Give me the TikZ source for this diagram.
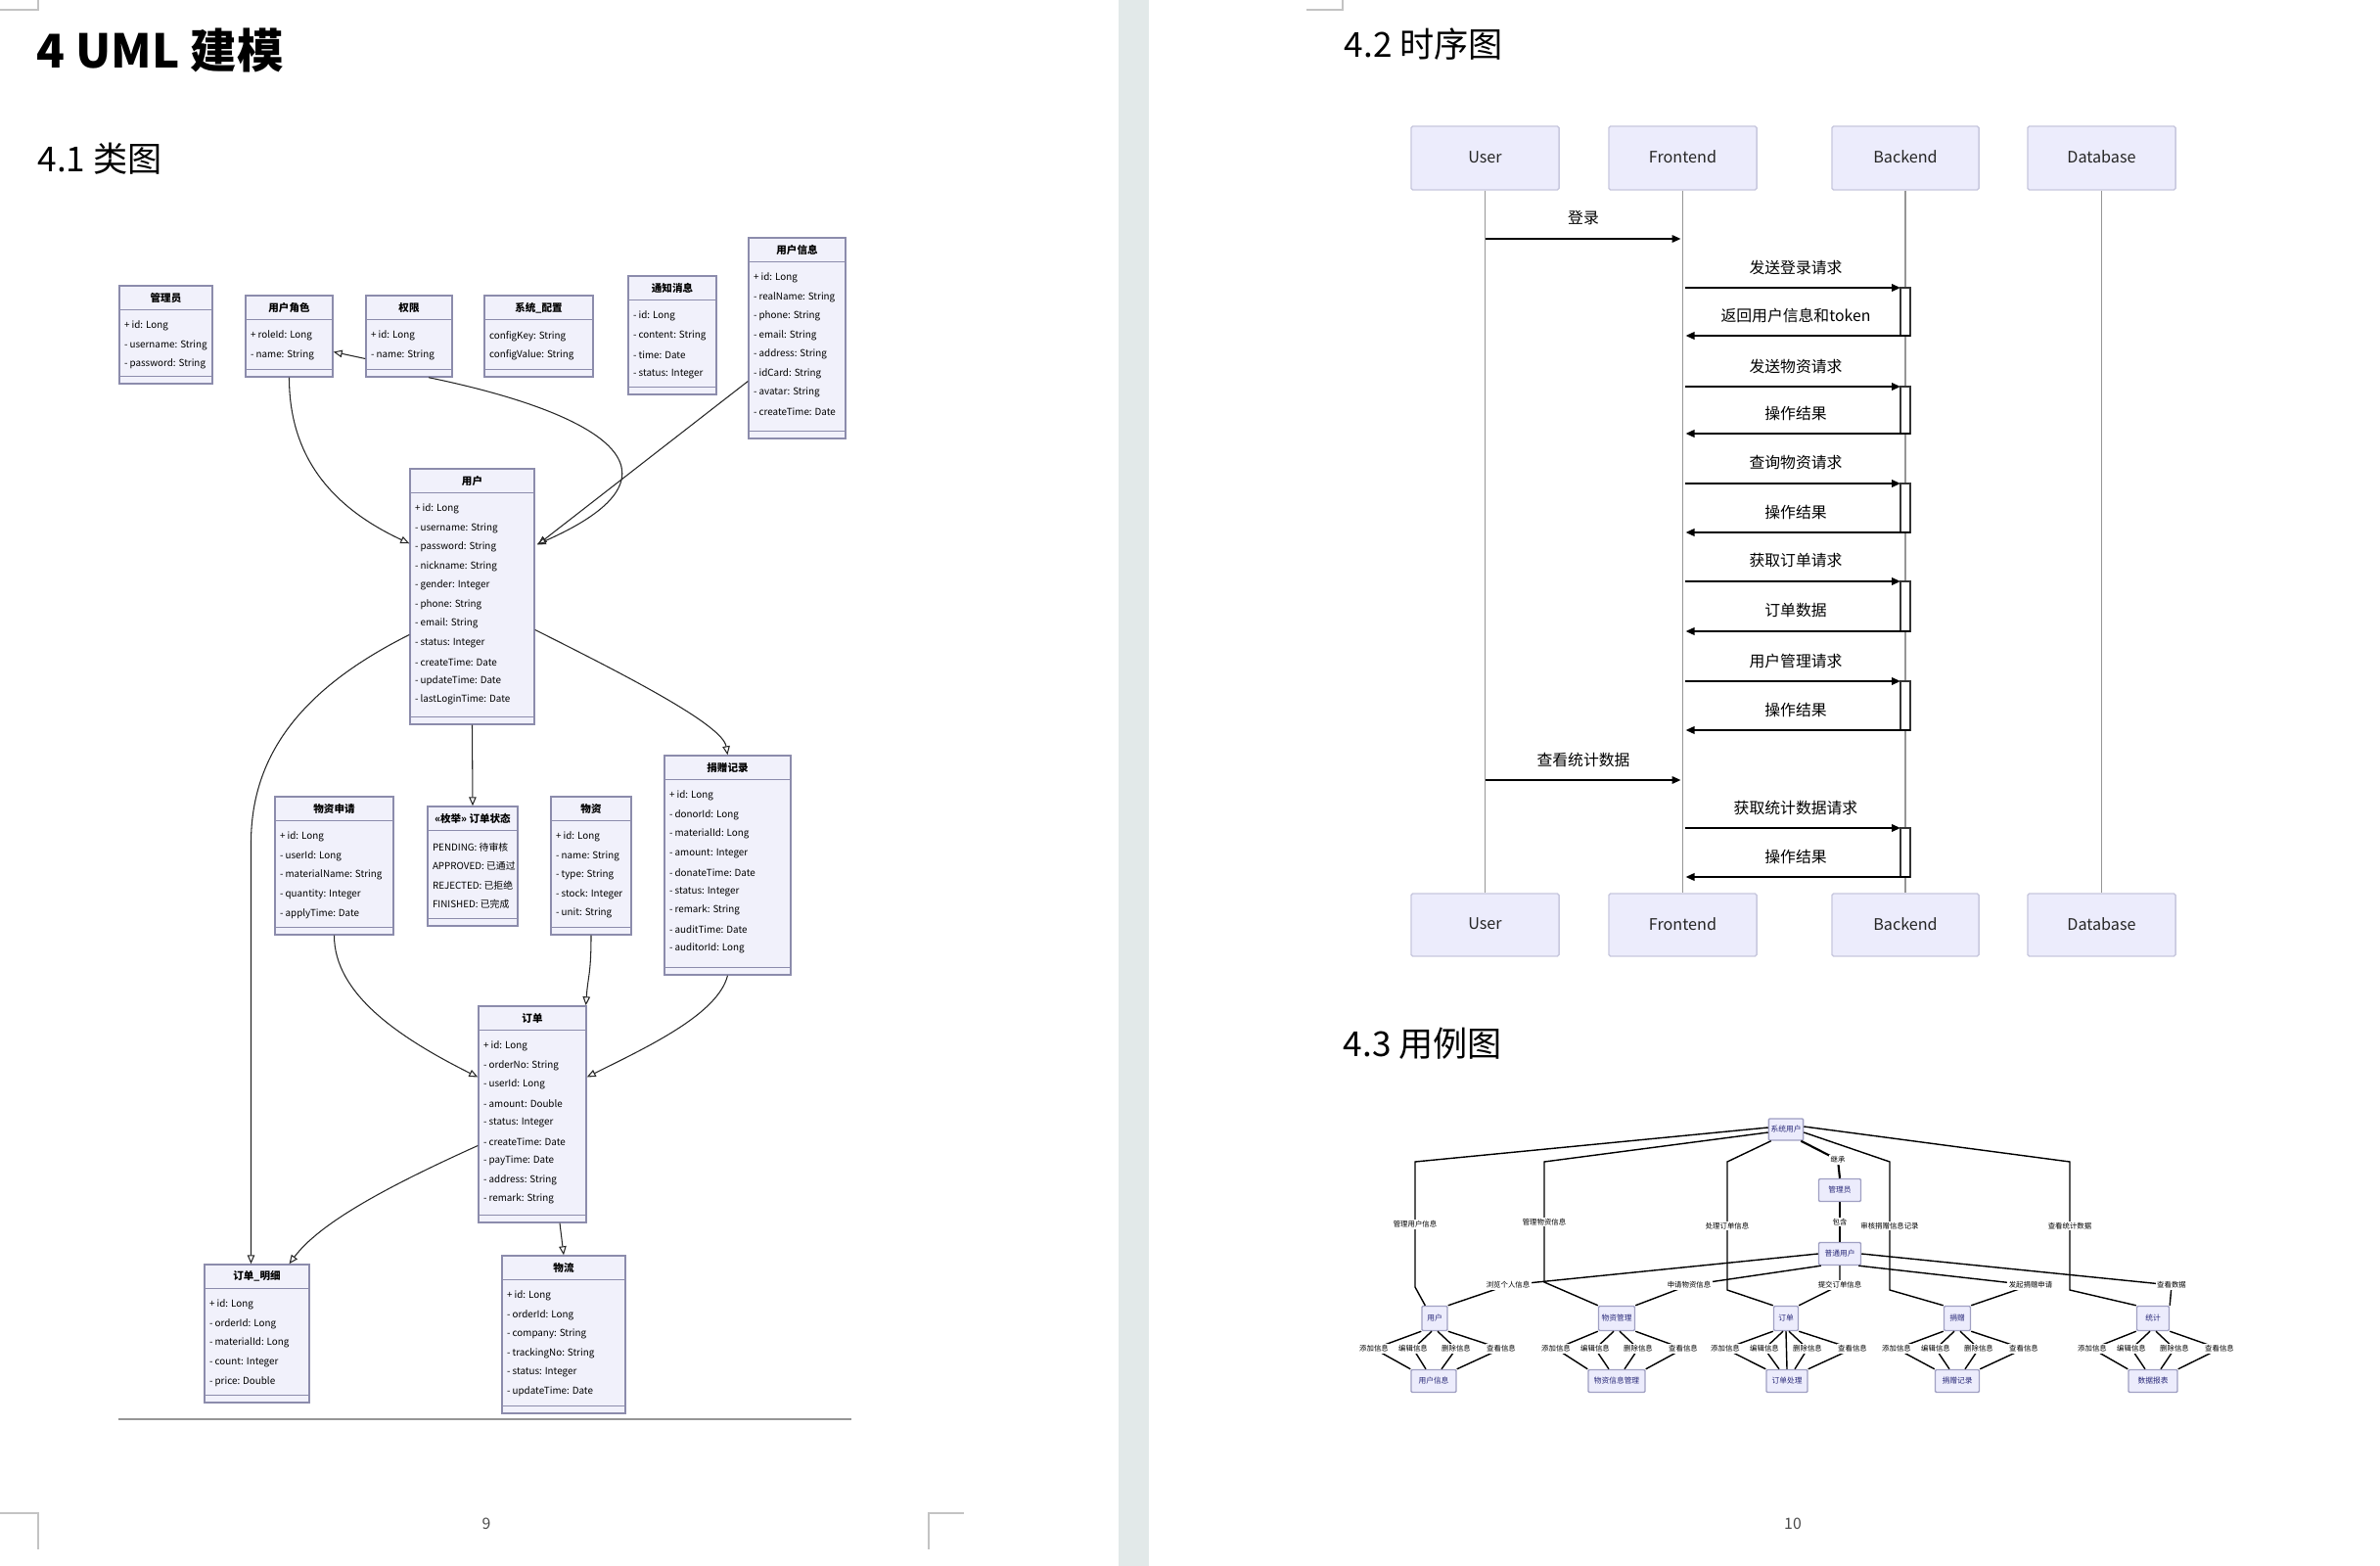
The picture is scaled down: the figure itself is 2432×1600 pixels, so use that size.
\documentclass[tikz,border=0pt]{standalone}
\usepackage{fontspec}
\setmainfont{Noto Sans CJK SC}
\usetikzlibrary{arrows.meta,calc,fit}
\definecolor{clsfill}{RGB}{241,241,251}
\definecolor{clsborder}{RGB}{140,140,172}
\definecolor{partfill}{RGB}{236,236,252}
\definecolor{partborder}{RGB}{200,200,222}
\definecolor{ucborder}{RGB}{160,160,195}
\definecolor{bandcol}{RGB}{226,233,233}
\definecolor{markcol}{RGB}{195,195,195}
\definecolor{lifecol}{RGB}{150,150,150}
\definecolor{ucblue}{RGB}{40,40,120}
\definecolor{rulecol}{RGB}{150,150,150}
\tikzset{
  classbox/.style={draw=clsborder, fill=clsfill, line width=0.4pt, inner sep=0pt},
  classsep/.style={draw=clsborder, line width=0.35pt},
  classtitle/.style={font=\fontsize{3}{3.5}\selectfont\bfseries, inner sep=0pt},
  classattr/.style={font=\fontsize{2.8}{3.2}\selectfont, anchor=west, inner sep=0pt},
  inh/.style={draw=black!85, line width=0.3pt, -{Triangle[open,length=0.09cm,width=0.075cm]}},
  part/.style={draw=partborder, fill=partfill, line width=0.4pt, inner sep=0pt, rounded corners=0.5pt, font=\fontsize{4.6}{5}\selectfont, text=black!85},
  lifeline/.style={draw=lifecol, line width=0.3pt},
  msg/.style={draw=black, line width=0.55pt, -{Triangle[length=0.09cm,width=0.075cm]}},
  msglabel/.style={font=\fontsize{4.5}{5}\selectfont, inner sep=0pt},
  actbar/.style={draw=black!80, fill=white, line width=0.3pt},
  uc/.style={draw=ucborder, fill=partfill, line width=0.4pt, inner sep=0.6pt, rounded corners=0.3pt, font=\fontsize{2.2}{2.5}\selectfont, text=ucblue},
  ucedge/.style={draw=black, line width=0.4pt},
  uclabel/.style={fill=white, inner sep=0.4pt, font=\fontsize{2.1}{2.5}\selectfont},
  heading/.style={anchor=west, inner sep=0pt, font=\fontsize{10}{12}\selectfont},
  pagenum/.style={inner sep=0pt, font=\fontsize{4.5}{5}\selectfont, text=black!70},
  cropmark/.style={draw=markcol, line width=0.6pt}
}
\newcommand\umlclass[7]{%
  \node[classbox, fit={(#2,#3)(#4,#5)}] (#1) {};
  \draw[classsep] ($(#1.north west)+(0,25)$) -- ($(#1.north east)+(0,25)$);
  \draw[classsep] ($(#1.south west)+(0,-8)$) -- ($(#1.south east)+(0,-8)$);
  \node[classtitle] (#1t) at ($(#1.north)+(0,13)$) {#6};
  \foreach \myattr [count=\i] in {#7} {
    \node[classattr] (#1a\i) at ($(#1.north west)+(5,{42+(\i-1)*19.5})$) {\myattr};
  }
}
\begin{document}
\begin{tikzpicture}[x=0.01cm,y=-0.01cm]
\useasboundingbox (0,0) rectangle (2432,1600);
\fill[white] (0,0) rectangle (2432,1600);
\fill[bandcol] (1143,0) rectangle (1174,1600);

% crop marks
\draw[cropmark] (0,10) -- (39,10) -- (39,0);
\draw[cropmark] (1335,10) -- (1372,10) -- (1372,0);
\draw[cropmark] (0,1546) -- (39,1546) -- (39,1583);
\draw[cropmark] (985,1546) -- (949,1546) -- (949,1583);

% headings
\node[heading, font=\fontsize{13.5}{16}\selectfont\bfseries] (h4) at (37,51) {4 UML 建模};
\node[heading] (h41) at (38,162) {4.1 类图};
\node[heading] (h42) at (1373,45) {4.2 时序图};
\node[heading] (h43) at (1372,1066) {4.3 用例图};

% page numbers
\node[pagenum] (pn9) at (497,1557) {9};
\node[pagenum] (pn10) at (1832,1557) {10};

% ================= class diagram =================
\umlclass{A}{122}{292}{217}{392}{管理员}{+ id: Long, - username: String, - password: String}
\umlclass{B}{251}{302}{340}{385}{用户角色}{+ roleId: Long, - name: String}
\umlclass{C}{374}{302}{462}{385}{权限}{+ id: Long, - name: String}
\umlclass{D}{495}{302}{606}{385}{系统\_配置}{configKey: String, configValue: String}
\umlclass{E}{642}{282}{732}{403}{通知消息}{- id: Long, - content: String, - time: Date, - status: Integer}
\umlclass{F}{765}{243}{864}{448}{用户信息}{+ id: Long, - realName: String, - phone: String, - email: String, - address: String, - idCard: String, - avatar: String, - createTime: Date}
\umlclass{G}{419}{479}{546}{740}{用户}{+ id: Long, - username: String, - password: String, - nickname: String, - gender: Integer, - phone: String, - email: String, - status: Integer, - createTime: Date, - updateTime: Date, - lastLoginTime: Date}
\umlclass{H}{281}{814}{402}{955}{物资申请}{+ id: Long, - userId: Long, - materialName: String, - quantity: Integer, - applyTime: Date}
\umlclass{I}{437}{824}{529}{946}{«枚举» 订单状态}{PENDING: 待审核, APPROVED: 已通过, REJECTED: 已拒绝, FINISHED: 已完成}
\umlclass{J}{563}{814}{645}{955}{物资}{+ id: Long, - name: String, - type: String, - stock: Integer, - unit: String}
\umlclass{K}{679}{772}{808}{996}{捐赠记录}{+ id: Long, - donorId: Long, - materialId: Long, - amount: Integer, - donateTime: Date, - status: Integer, - remark: String, - auditTime: Date, - auditorId: Long}
\umlclass{L}{489}{1028}{599}{1249}{订单}{+ id: Long, - orderNo: String, - userId: Long, - amount: Double, - status: Integer, - createTime: Date, - payTime: Date, - address: String, - remark: String}
\umlclass{M}{209}{1292}{316}{1433}{订单\_明细}{+ id: Long, - orderId: Long, - materialId: Long, - count: Integer, - price: Double}
\umlclass{N}{513}{1283}{639}{1444}{物流}{+ id: Long, - orderId: Long, - company: String, - trackingNo: String, - status: Integer, - updateTime: Date}

% class connectors
\draw[inh] (B.south) .. controls +(0,85) and +(-75,-35) .. ($(G.north west)+(0,77)$);
\draw[inh] ($(C.south)+(20,0)$) .. controls +(170,35) and +(170,-75) .. ($(G.north east)+(2,78)$);
\draw[inh] ($(C.west)+(0,23)$) -- ($(B.east)+(0,16)$);
\draw[inh] ($(F.west)+(0,44)$) -- ($(G.north east)+(3,78)$);
\draw[inh] ($(G.west)+(0,39)$) .. controls +(-110,55) and +(0,-90) .. ($(M.north)+(-6,-430)$) -- ($(M.north)+(-6,0)$);
\draw[inh] (G.south) -- (I.north);
\draw[inh] ($(G.east)+(0,34)$) .. controls +(100,50) and +(-5,-30) .. (K.north);
\draw[inh] (H.south) .. controls +(0,60) and +(-80,-40) .. ($(L.west)+(0,-38)$);
\draw[inh] (J.south) .. controls +(0,40) and +(2,-30) .. ($(L.north east)+(-1,0)$);
\draw[inh] (K.south) .. controls +(-10,40) and +(60,-30) .. ($(L.east)+(0,-38)$);
\draw[inh] ($(L.west)+(0,32)$) .. controls +(-100,45) and +(30,-40) .. ($(M.north)+(33,0)$);
\draw[inh] ($(L.south)+(28,0)$) -- (N.north);

% rule under class diagram
\draw[rulecol, line width=0.7pt] (121,1450) -- (870,1450);

% ================= sequence diagram =================
\node[part, minimum width=1.51cm, minimum height=0.65cm, text depth=0.6pt] (uT) at (1517.5,161.5) {User};
\node[part, minimum width=1.51cm, minimum height=0.65cm, text depth=0.6pt] (fT) at (1719.5,161.5) {Frontend};
\node[part, minimum width=1.50cm, minimum height=0.65cm, text depth=0.6pt] (bT) at (1947,161.5) {Backend};
\node[part, minimum width=1.51cm, minimum height=0.65cm, text depth=0.6pt] (dT) at (2147.5,161.5) {Database};
\node[part, minimum width=1.51cm, minimum height=0.64cm, text depth=0.6pt] (uB) at (1517.5,945) {User};
\node[part, minimum width=1.51cm, minimum height=0.64cm, text depth=0.6pt] (fB) at (1719.5,945) {Frontend};
\node[part, minimum width=1.50cm, minimum height=0.64cm, text depth=0.6pt] (bB) at (1947,945) {Backend};
\node[part, minimum width=1.51cm, minimum height=0.64cm, text depth=0.6pt] (dB) at (2147.5,945) {Database};
\draw[lifeline] (uT.south) -- (uB.north);
\draw[lifeline] (fT.south) -- (fB.north);
\draw[lifeline] (bT.south) -- (bB.north);
\draw[lifeline] (dT.south) -- (dB.north);

\draw[msg] (uT.south |- 0,244) -- ($(fT.south |- 0,244)+(-2,0)$);
\node[msglabel] (m1) at (1618,223) {登录};
\draw[msg] (uT.south |- 0,797) -- ($(fT.south |- 0,797)+(-2,0)$);
\node[msglabel] (m7) at (1618,776) {查看统计数据};

\foreach \cy/\ry/\cl/\rl in {294/343/发送登录请求/返回用户信息和token, 395/443/发送物资请求/操作结果, 494/544/查询物资请求/操作结果, 594/645/获取订单请求/订单数据, 696/746/用户管理请求/操作结果, 846/896/获取统计数据请求/操作结果} {
  \draw[actbar] ($(bT.south |- 0,\cy)+(-5,0)$) rectangle ($(bT.south |- 0,\ry)+(5,0)$);
  \draw[msg] ($(fT.south |- 0,\cy)+(2,0)$) -- ($(bT.south |- 0,\cy)+(-5,0)$);
  \draw[msg] ($(bT.south |- 0,\ry)+(5,0)$) -- ($(fT.south |- 0,\ry)+(3,0)$);
  \node[msglabel] (mc\cy) at (1835,\cy-21) {\cl};
  \node[msglabel] (mr\ry) at (1835,\ry-21) {\rl};
}

% ================= use case diagram =================
\node[uc, minimum width=0.35cm, minimum height=0.22cm] (T) at (1825,1154) {系统用户};
\node[uc, minimum width=0.43cm, minimum height=0.23cm] (P) at (1880,1216) {管理员};
\node[uc, minimum width=0.43cm, minimum height=0.23cm] (Q) at (1880,1281) {普通用户};
\node[uc, minimum width=0.26cm, minimum height=0.25cm] (R1) at (1466,1347) {用户};
\node[uc, minimum width=0.37cm, minimum height=0.25cm] (R2) at (1652,1347) {物资管理};
\node[uc, minimum width=0.25cm, minimum height=0.25cm] (R3) at (1825,1347) {订单};
\node[uc, minimum width=0.27cm, minimum height=0.25cm] (R4) at (2000,1347) {捐赠};
\node[uc, minimum width=0.33cm, minimum height=0.25cm] (R5) at (2200,1347) {统计};
\node[uc, minimum width=0.46cm, minimum height=0.23cm] (S1) at (1465,1411) {用户信息};
\node[uc, minimum width=0.58cm, minimum height=0.23cm] (S2) at (1652,1411) {物资信息管理};
\node[uc, minimum width=0.42cm, minimum height=0.23cm] (S3) at (1826,1411) {订单处理};
\node[uc, minimum width=0.45cm, minimum height=0.23cm] (S4) at (2000,1411) {捐赠记录};
\node[uc, minimum width=0.50cm, minimum height=0.23cm] (S5) at (2200,1411) {数据报表};

\coordinate (v1a) at (1446,1187); \coordinate (v1b) at (1446,1315);
\coordinate (v2a) at (1578,1187); \coordinate (v2b) at (1578,1310);
\coordinate (v3a) at (1765,1187); \coordinate (v3b) at (1765,1318);
\coordinate (v4a) at (1931,1187); \coordinate (v4b) at (1931,1318);
\coordinate (v5a) at (2115,1187); \coordinate (v5b) at (2115,1318);
\draw[ucedge] ($(T.west)+(0,-2)$) -- (v1a) -- node[uclabel] (vl1) {管理用户信息} (v1b) -- ($(R1.north west)+(4,0)$);
\draw[ucedge] ($(T.west)+(0,3)$) -- (v2a) -- node[uclabel] (vl2) {管理物资信息} (v2b) -- (R2.north west);
\draw[ucedge] ($(T.south west)+(3,0)$) -- (v3a) -- node[uclabel] (vl3) {处理订单信息} (v3b) -- (R3.north west);
\draw[ucedge] ($(T.east)+(0,3)$) -- (v4a) -- node[uclabel] (vl4) {审核捐赠信息记录} (v4b) -- (R4.north west);
\draw[ucedge] ($(T.east)+(0,-3)$) -- (v5a) -- node[uclabel] (vl5) {查看统计数据} (v5b) -- (R5.north west);

\draw[ucedge, line width=0.6pt] ($(T.south east)+(-3,0)$) -- (1878,1185) node[uclabel] (tpl) {继承} -- (P.north);
\draw[ucedge] (P.south) -- node[uclabel] (pql) {包含} (Q.north);

\draw[ucedge] (Q.west) -- (1541,1313) node[uclabel] (ql1) {浏览个人信息} -- (R1.north east);
\draw[ucedge] ($(Q.south west)+(3,0)$) -- (1726,1313) node[uclabel] (ql2) {申请物资信息} -- (R2.north east);
\draw[ucedge] (Q.south) -- (1880,1313) node[uclabel] (ql3) {提交订单信息} -- (R3.north east);
\draw[ucedge] ($(Q.south east)+(-3,0)$) -- (2075,1313) node[uclabel] (ql4) {发起捐赠申请} -- (R4.north east);
\draw[ucedge] (Q.east) -- (2219,1313) node[uclabel] (ql5) {查看数据} -- (R5.north east);

\draw[ucedge] (R3.south) -- (S3.north);
\foreach \i/\cx in {1/1466,2/1652,3/1825,4/2000,5/2200} {
  \draw[ucedge] (R\i.south west) -- (\cx-62,1378) node[uclabel] (fa\i) {添加信息} -- (S\i.north west);
  \draw[ucedge] ($(R\i.south)+(-3,0)$) -- (\cx-22,1378) node[uclabel] (fb\i) {编辑信息} -- ($(S\i.north)+(-8,0)$);
  \draw[ucedge] ($(R\i.south)+(3,0)$) -- (\cx+22,1378) node[uclabel] (fc\i) {删除信息} -- ($(S\i.north)+(8,0)$);
  \draw[ucedge] (R\i.south east) -- (\cx+68,1378) node[uclabel] (fd\i) {查看信息} -- (S\i.north east);
}
\end{tikzpicture}
\end{document}
